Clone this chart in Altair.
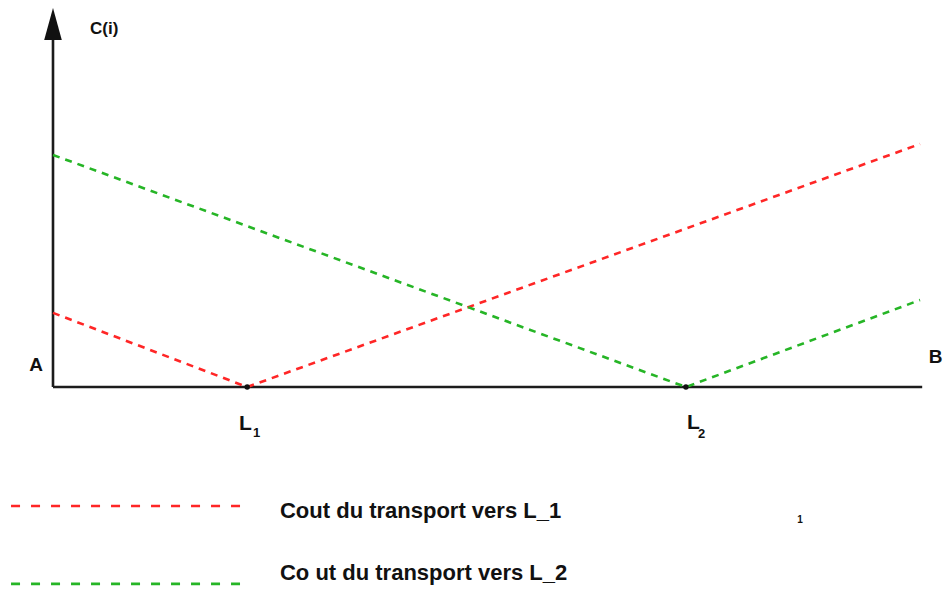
import altair as alt
import pandas as pd

# ---- data (distance along segment A-B: 0..100, cost units) ----
series_names = ["L_1", "L_2"]
red_x = [0, 22.4, 100]
red_y = [30.5, 0, 100]
green_x = [0, 73.0, 100]
green_y = [95.5, 0, 35.8]
site_names = ["L", "L"]
site_subs = ["1", "2"]
site_x = [22.4, 73.0]
legend_labels = ["Cout du transport vers L_1", "Co ut du transport vers L_2"]
colors = ["#ff2626", "#26b526"]

W, H = 935, 578
xs = alt.Scale(domain=[-5.19, 102.65], nice=False, zero=False)
ys = alt.Scale(domain=[-81.89, 155.97], nice=False, zero=False)
cs = alt.Scale(domain=series_names, range=colors)
FONT = "Liberation Sans"

cost = pd.DataFrame({
    "x": red_x + green_x,
    "y": red_y + green_y,
    "s": [series_names[0]] * 3 + [series_names[1]] * 3,
    "o": [0, 1, 2] * 2,
})

lines = alt.Chart(cost).mark_line(strokeDash=[7, 6], strokeWidth=2.6, clip=False).encode(
    x=alt.X("x:Q", scale=xs, axis=None),
    y=alt.Y("y:Q", scale=ys, axis=None),
    color=alt.Color("s:N", scale=cs, legend=None),
    order="o:Q",
)

# axes
axes_df = pd.DataFrame({"x": [0, 0], "x2": [100.25, 0], "y": [0, 0], "y2": [0, 144.9]})
axes = alt.Chart(axes_df).mark_rule(color="#1c1c1c", strokeWidth=2.6).encode(
    x=alt.X("x:Q", scale=xs, axis=None), x2="x2:Q",
    y=alt.Y("y:Q", scale=ys, axis=None), y2="y2:Q",
)

arrow = alt.Chart(pd.DataFrame({"x": [0], "y": [149.4]})).mark_point(
    shape="M0,-1L0.55,1L-0.55,1Z", size=1024, filled=True, color="#111111", opacity=1
).encode(x=alt.X("x:Q", scale=xs, axis=None), y=alt.Y("y:Q", scale=ys, axis=None))

sites_df = pd.DataFrame({"x": site_x, "y": [0, 0], "t": site_names, "sub": site_subs})
dots = alt.Chart(sites_df).mark_point(filled=True, size=30, color="#111111", opacity=1).encode(
    x=alt.X("x:Q", scale=xs, axis=None), y=alt.Y("y:Q", scale=ys, axis=None)
)

# site labels L with subscripts
site_main = alt.Chart(pd.DataFrame({"x": [21.45, 73.13], "y": [-17.7, -17.3], "t": site_names})).mark_text(
    align="left", baseline="alphabetic", font=FONT, fontWeight="bold", fontSize=21, color="#111111"
).encode(x=alt.X("x:Q", scale=xs, axis=None), y=alt.Y("y:Q", scale=ys, axis=None), text="t:N")
site_sub = alt.Chart(pd.DataFrame({"x": [23.07, 74.4], "y": [-20.6, -21.0], "t": site_subs})).mark_text(
    align="left", baseline="alphabetic", font=FONT, fontWeight="bold", fontSize=13, color="#111111"
).encode(x=alt.X("x:Q", scale=xs, axis=None), y=alt.Y("y:Q", scale=ys, axis=None), text="t:N")

# other labels
lab_df = pd.DataFrame({"x": [5.9, -1.96, 101.0], "y": [145.3, 6.6, 9.9], "t": ["C(i)", "A", "B"]})
lab_c = alt.Chart(lab_df.iloc[[0]]).mark_text(
    align="center", baseline="alphabetic", font=FONT, fontWeight="bold", fontSize=17, color="#111111"
).encode(x=alt.X("x:Q", scale=xs, axis=None), y=alt.Y("y:Q", scale=ys, axis=None), text="t:N")
lab_a = alt.Chart(lab_df.iloc[[1]]).mark_text(
    align="center", baseline="alphabetic", font=FONT, fontWeight="bold", fontSize=19, color="#111111"
).encode(x=alt.X("x:Q", scale=xs, axis=None), y=alt.Y("y:Q", scale=ys, axis=None), text="t:N")
lab_b = alt.Chart(lab_df.iloc[[2]]).mark_text(
    align="left", baseline="alphabetic", font=FONT, fontWeight="bold", fontSize=19, color="#111111"
).encode(x=alt.X("x:Q", scale=xs, axis=None), y=alt.Y("y:Q", scale=ys, axis=None), text="t:N")

# legend (manual)
leg_df = pd.DataFrame({"x": [-4.84, -4.84], "x2": [21.57, 21.57], "y": [-48.97, -81.0],
                       "s": series_names, "t": legend_labels, "tx": [26.18, 26.18], "ty": [-53.9, -79.6]})
leg_lines = alt.Chart(leg_df).mark_rule(strokeDash=[9, 11], strokeWidth=2.6, clip=False).encode(
    x=alt.X("x:Q", scale=xs, axis=None), x2="x2:Q",
    y=alt.Y("y:Q", scale=ys, axis=None),
    color=alt.Color("s:N", scale=cs, legend=None),
)
leg_text = alt.Chart(leg_df).mark_text(
    align="left", baseline="alphabetic", font=FONT, fontWeight="bold", fontSize=22, color="#111111", clip=False
).encode(x=alt.X("tx:Q", scale=xs, axis=None), y=alt.Y("ty:Q", scale=ys, axis=None), text="t:N")

page_num = alt.Chart(pd.DataFrame({"x": [86.16], "y": [-56.0], "t": ["1"]})).mark_text(
    align="center", baseline="alphabetic", font=FONT, fontWeight="bold", fontSize=10, color="#111111"
).encode(x=alt.X("x:Q", scale=xs, axis=None), y=alt.Y("y:Q", scale=ys, axis=None), text="t:N")

chart = alt.layer(
    axes, arrow, lines, dots, site_main, site_sub, lab_c, lab_a, lab_b, leg_lines, leg_text, page_num
).properties(
    width=W, height=H, autosize=alt.AutoSizeParams(type="none"), padding=0
).configure_view(strokeWidth=0)

chart.save("out.html", embed_options={"renderer": "svg", "actions": False})
